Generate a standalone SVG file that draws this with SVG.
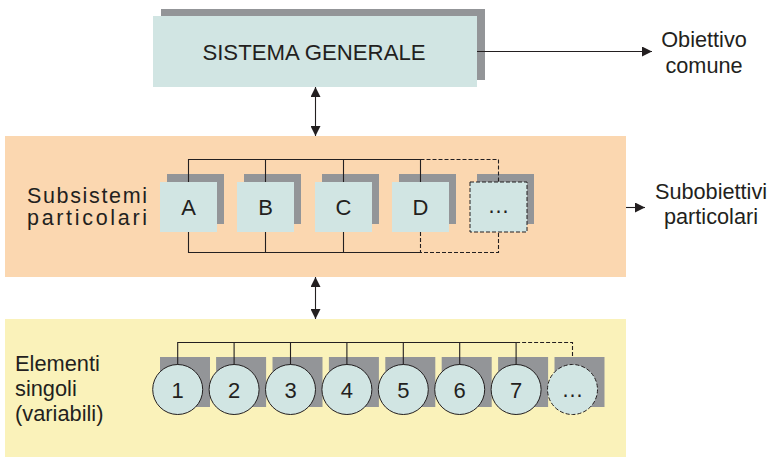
<svg xmlns="http://www.w3.org/2000/svg" width="772" height="457" viewBox="0 0 772 457">
  <defs>
    <style>
      text { font-family: "Liberation Sans", Arial, sans-serif; fill: #231F20; }
      .shadow { fill: #939598; }
      .box { fill: #D1E5E3; }
      .boxd { fill: #D1E5E3; stroke: #231F20; stroke-width: 1; stroke-dasharray: 4 2; }
      .circ { fill: #D1E5E3; stroke: #231F20; stroke-width: 1; }
      .circd { fill: #D1E5E3; stroke: #231F20; stroke-width: 1; stroke-dasharray: 4 2; }
      .lbl { font-size: 22px; text-anchor: middle; }
      .side { font-size: 21.7px; text-anchor: middle; }
      .wire { fill: none; stroke: #231F20; stroke-width: 1.1; }
      .dash { fill: none; stroke: #231F20; stroke-width: 1.1; stroke-dasharray: 4 2; }
    </style>
    <marker id="arr" viewBox="0 0 10 10" refX="10" refY="5" markerWidth="10" markerHeight="10" markerUnits="userSpaceOnUse" orient="auto-start-reverse">
      <path d="M0,0 L10,5 L0,10 Z" fill="#231F20"/>
    </marker>
  </defs>

  <!-- level panels -->
  <rect id="panel-sub" x="5" y="136" width="621" height="141" fill="#FBD7B0"/>
  <rect id="panel-elem" x="5" y="319" width="621" height="138" fill="#FAF2BA"/>

  <!-- panel captions -->
  <g id="caption-sub">
    <text x="27" y="203" font-size="21.5" textLength="120" lengthAdjust="spacing">Subsistemi</text>
    <text x="27" y="225" font-size="21.5" textLength="120" lengthAdjust="spacing">particolari</text>
  </g>
  <g id="caption-elem" font-size="21.8">
    <text x="15" y="371">Elementi</text>
    <text x="15" y="396">singoli</text>
    <text x="15" y="421">(variabili)</text>
  </g>

  <!-- general system -->
  <g id="sistema">
    <rect class="shadow" x="161" y="9" width="324" height="71"/>
    <rect class="box" x="153" y="16" width="324" height="71"/>
    <text x="314" y="60" font-size="22.2" text-anchor="middle">SISTEMA GENERALE</text>
  </g>

  <!-- subsystems -->
  <g id="sub-a">
    <rect class="shadow" x="167" y="174" width="57" height="50"/>
    <rect class="box" x="160" y="182" width="57" height="50"/>
    <text class="lbl" x="188.5" y="215">A</text>
  </g>
  <g id="sub-b">
    <rect class="shadow" x="244" y="174" width="57" height="50"/>
    <rect class="box" x="237" y="182" width="57" height="50"/>
    <text class="lbl" x="265.5" y="215">B</text>
  </g>
  <g id="sub-c">
    <rect class="shadow" x="322" y="174" width="57" height="50"/>
    <rect class="box" x="315" y="182" width="57" height="50"/>
    <text class="lbl" x="343.5" y="215">C</text>
  </g>
  <g id="sub-d">
    <rect class="shadow" x="399" y="174" width="57" height="50"/>
    <rect class="box" x="392" y="182" width="57" height="50"/>
    <text class="lbl" x="420.5" y="215">D</text>
  </g>
  <g id="sub-more">
    <rect class="shadow" x="477" y="174" width="57" height="50"/>
    <rect class="boxd" x="470" y="182" width="57" height="50"/>
    <text class="lbl" x="498.5" y="213">…</text>
  </g>

  <!-- single elements -->
  <g id="el-1">
    <rect class="shadow" x="160" y="357" width="50" height="50"/>
    <circle class="circ" cx="177.7" cy="389.5" r="25"/>
    <text class="lbl" x="177.7" y="398">1</text>
  </g>
  <g id="el-2">
    <rect class="shadow" x="216.1" y="357" width="50" height="50"/>
    <circle class="circ" cx="234.1" cy="389.5" r="25"/>
    <text class="lbl" x="234.1" y="398">2</text>
  </g>
  <g id="el-3">
    <rect class="shadow" x="272.5" y="357" width="50" height="50"/>
    <circle class="circ" cx="290.5" cy="389.5" r="25"/>
    <text class="lbl" x="290.5" y="398">3</text>
  </g>
  <g id="el-4">
    <rect class="shadow" x="328.9" y="357" width="50" height="50"/>
    <circle class="circ" cx="346.9" cy="389.5" r="25"/>
    <text class="lbl" x="346.9" y="398">4</text>
  </g>
  <g id="el-5">
    <rect class="shadow" x="385.3" y="357" width="50" height="50"/>
    <circle class="circ" cx="403.3" cy="389.5" r="25"/>
    <text class="lbl" x="403.3" y="398">5</text>
  </g>
  <g id="el-6">
    <rect class="shadow" x="441.7" y="357" width="50" height="50"/>
    <circle class="circ" cx="459.7" cy="389.5" r="25"/>
    <text class="lbl" x="459.7" y="398">6</text>
  </g>
  <g id="el-7">
    <rect class="shadow" x="498.1" y="357" width="50" height="50"/>
    <circle class="circ" cx="516.1" cy="389.5" r="25"/>
    <text class="lbl" x="516.1" y="398">7</text>
  </g>
  <g id="el-more">
    <rect class="shadow" x="554.5" y="357" width="50" height="50"/>
    <circle class="circd" cx="572.5" cy="389.5" r="25"/>
    <text class="lbl" x="572.5" y="397">…</text>
  </g>

  <!-- goals -->
  <g id="obiettivo">
    <text class="side" x="704" y="47">Obiettivo</text>
    <text class="side" x="704" y="73">comune</text>
  </g>
  <g id="subobiettivi">
    <text class="side" x="711" y="199">Subobiettivi</text>
    <text class="side" x="711" y="224">particolari</text>
  </g>

  <!-- connectors -->
  <g id="connectors">
    <!-- system to common goal -->
    <line class="wire" x1="477" y1="51.5" x2="652" y2="51.5" marker-end="url(#arr)"/>
    <!-- subsystems to sub-goals -->
    <line class="wire" x1="626" y1="207.5" x2="645" y2="207.5" marker-end="url(#arr)"/>
    <!-- level links -->
    <line class="wire" x1="315.5" y1="87" x2="315.5" y2="136" marker-start="url(#arr)" marker-end="url(#arr)"/>
    <line class="wire" x1="315.5" y1="277" x2="315.5" y2="319" marker-start="url(#arr)" marker-end="url(#arr)"/>

    <!-- subsystem buses -->
    <path class="wire" d="M188.5,182 V159.5 H420.5 V182 M265.5,159.5 V182 M343.5,159.5 V182"/>
    <path class="dash" d="M420.5,159.5 H498.5 V182"/>
    <path class="wire" d="M188.5,232 V252.5 H420.5 M265.5,232 V252.5 M343.5,232 V252.5"/>
    <path class="dash" d="M420.5,232 V252.5 H498.5 V232"/>

    <!-- element bus -->
    <path class="wire" d="M177.7,364.5 V342.5 H516.1 V364.5 M234.1,342.5 V364.5 M290.5,342.5 V364.5 M346.9,342.5 V364.5 M403.3,342.5 V364.5 M459.7,342.5 V364.5"/>
    <path class="dash" d="M516.1,342.5 H572.5 V357"/>
  </g>
</svg>
